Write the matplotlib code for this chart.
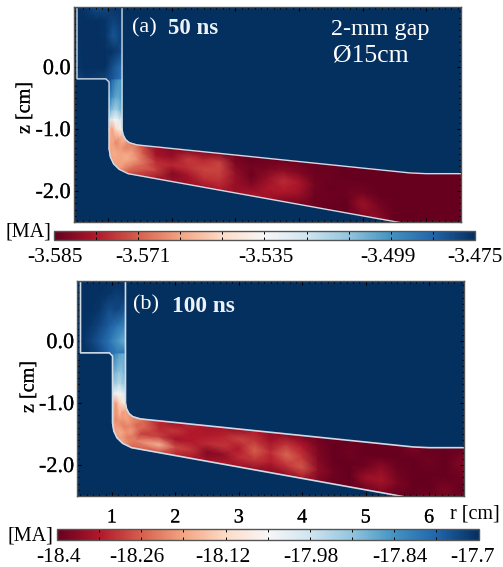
import numpy as np
import matplotlib
matplotlib.use('Agg')
import matplotlib.pyplot as plt
import matplotlib.patheffects as pe
from matplotlib.cm import ScalarMappable
from matplotlib.colors import Normalize
from matplotlib.ticker import MultipleLocator
from matplotlib.transforms import ScaledTranslation

plt.rcParams['font.family'] = ['Liberation Serif', 'DejaVu Serif']

W, H = 503, 567

# channel stations, walls in cm
station_r_low = [1.01, 1.01, 1.01, 1.01, 1.01, 1.01, 1.03, 1.08, 1.17, 1.31]
station_z_low = [-0.19, -0.5, -0.7, -0.85, -1.0, -1.32, -1.45, -1.56, -1.65, -1.72]
station_r_up = [1.214, 1.214, 1.214, 1.214, 1.214, 1.23, 1.27, 1.33, 1.45, 1.6]
station_z_up = [-0.19, -0.5, -0.7, -0.85, -1.0, -1.09, -1.17, -1.22, -1.256, -1.272]
slope_r = [1.75, 2.0, 2.25, 2.5, 2.75, 3.0, 3.25, 3.5, 3.75, 4.0, 4.25, 4.5, 4.75, 5.0, 5.25, 5.5, 5.75, 6.0, 6.25, 6.55]
low_wall_r = [1.31, 5.54, 6.55]
low_wall_z = [-1.72, -2.5, -2.686]
up_wall_r = [1.45, 5.86, 6.55]
up_wall_z = [-1.256, -1.72, -1.72]

box_r = [0.505, 0.65, 0.8, 0.95, 1.08, 1.214]
box_z = [0.97, 0.75, 0.5, 0.25, 0.0, -0.19]

# current [MA], one row per station, lower wall to upper wall
current_a = [
    [-3.480, -3.486, -3.492, -3.497, -3.497],
    [-3.491, -3.497, -3.502, -3.502, -3.497],
    [-3.502, -3.508, -3.513, -3.508, -3.502],
    [-3.519, -3.524, -3.530, -3.524, -3.519],
    [-3.546, -3.552, -3.541, -3.535, -3.530],
    [-3.552, -3.552, -3.557, -3.552, -3.546],
    [-3.552, -3.550, -3.554, -3.552, -3.550],
    [-3.552, -3.552, -3.552, -3.557, -3.557],
    [-3.554, -3.552, -3.550, -3.554, -3.560],
    [-3.565, -3.560, -3.555, -3.562, -3.570],
    [-3.576, -3.568, -3.570, -3.576, -3.577],
    [-3.578, -3.580, -3.572, -3.578, -3.580],
    [-3.577, -3.576, -3.570, -3.569, -3.580],
    [-3.576, -3.570, -3.567, -3.571, -3.581],
    [-3.575, -3.570, -3.567, -3.567, -3.581],
    [-3.578, -3.578, -3.578, -3.581, -3.583],
    [-3.575, -3.580, -3.584, -3.583, -3.585],
    [-3.576, -3.575, -3.578, -3.582, -3.584],
    [-3.581, -3.574, -3.571, -3.579, -3.584],
    [-3.583, -3.577, -3.575, -3.581, -3.584],
    [-3.584, -3.584, -3.583, -3.584, -3.585],
    [-3.585, -3.584, -3.585, -3.584, -3.585],
    [-3.585, -3.585, -3.584, -3.585, -3.585],
    [-3.581, -3.577, -3.583, -3.585, -3.585],
    [-3.579, -3.582, -3.585, -3.585, -3.585],
    [-3.585, -3.585, -3.585, -3.585, -3.585],
    [-3.585, -3.585, -3.585, -3.585, -3.585],
    [-3.585, -3.585, -3.585, -3.585, -3.585],
    [-3.583, -3.585, -3.585, -3.585, -3.585],
    [-3.585, -3.585, -3.585, -3.585, -3.585],
]
current_b = [
    [-17.78, -17.82, -17.85, -17.87, -17.86],
    [-17.87, -17.89, -17.91, -17.90, -17.87],
    [-17.94, -17.93, -17.96, -17.93, -17.92],
    [-18.00, -18.04, -18.05, -18.02, -18.00],
    [-18.16, -18.20, -18.14, -18.10, -18.06],
    [-18.18, -18.22, -18.18, -18.20, -18.17],
    [-18.19, -18.20, -18.22, -18.19, -18.20],
    [-18.20, -18.18, -18.23, -18.20, -18.22],
    [-18.19, -18.23, -18.20, -18.25, -18.23],
    [-18.26, -18.23, -18.29, -18.25, -18.28],
    [-18.28, -18.17, -18.29, -18.31, -18.32],
    [-18.32, -18.28, -18.34, -18.30, -18.35],
    [-18.34, -18.30, -18.33, -18.33, -18.32],
    [-18.35, -18.37, -18.31, -18.33, -18.34],
    [-18.33, -18.36, -18.30, -18.32, -18.34],
    [-18.35, -18.31, -18.33, -18.29, -18.36],
    [-18.36, -18.30, -18.26, -18.30, -18.33],
    [-18.37, -18.33, -18.31, -18.34, -18.36],
    [-18.36, -18.30, -18.25, -18.30, -18.37],
    [-18.34, -18.27, -18.30, -18.33, -18.38],
    [-18.38, -18.36, -18.37, -18.38, -18.39],
    [-18.40, -18.39, -18.40, -18.40, -18.40],
    [-18.40, -18.40, -18.40, -18.39, -18.40],
    [-18.39, -18.35, -18.39, -18.40, -18.40],
    [-18.38, -18.34, -18.36, -18.40, -18.40],
    [-18.40, -18.38, -18.39, -18.40, -18.40],
    [-18.40, -18.40, -18.40, -18.40, -18.38],
    [-18.38, -18.40, -18.40, -18.39, -18.40],
    [-18.40, -18.38, -18.40, -18.40, -18.40],
    [-18.37, -18.40, -18.39, -18.37, -18.40],
]

# feed box cells, top row first, left to right
box_a = [
    [-3.475, -3.477, -3.481, -3.480, -3.476, -3.476],
    [-3.475, -3.475, -3.475, -3.476, -3.479, -3.477],
    [-3.475, -3.475, -3.475, -3.476, -3.483, -3.478],
    [-3.476, -3.475, -3.475, -3.475, -3.476, -3.480],
    [-3.476, -3.475, -3.475, -3.475, -3.482, -3.488],
    [-3.479, -3.477, -3.478, -3.479, -3.484, -3.490],
]
box_b = [
    [-17.70, -17.70, -17.70, -17.70, -17.70, -17.70],
    [-17.70, -17.70, -17.70, -17.71, -17.72, -17.71],
    [-17.70, -17.70, -17.71, -17.74, -17.73, -17.75],
    [-17.70, -17.71, -17.73, -17.76, -17.79, -17.82],
    [-17.70, -17.72, -17.75, -17.79, -17.84, -17.88],
    [-17.70, -17.71, -17.73, -17.77, -17.80, -17.80],
]

vmin_a, vmax_a = -3.585, -3.475
vmin_b, vmax_b = -18.4, -17.7
cbar_labels_a = ['-3.585', '', '-3.571', '', '', '-3.535', '', '', '-3.499', '', '-3.475']
cbar_labels_b = ['-18.4', '', '-18.26', '', '-18.12', '', '-17.98', '', '-17.84', '', '-17.7']
cbar_shift_a = [1, 0, 5, 0, 0, 1, 0, 0, -3, 0, 0]
cbar_shift_b = [2, 0, -4, 0, -3, 0, 1, 0, 6, 0, -6]

navy = '#04305f'
wall = '#cfdbe6'
soft = [pe.withStroke(linewidth=0.15, foreground='#333333')]


def px_axes(x0, y0, x1, y1):
    return fig.add_axes([x0 / W, 1 - y1 / H, (x1 - x0) / W, (y1 - y0) / H])


def draw_panel(ax, current, box, vmin, vmax, wall_lw):
    ax.set_facecolor(navy)
    norm = Normalize(vmin, vmax)
    r_low = np.concatenate([station_r_low, slope_r])
    z_low = np.concatenate([station_z_low, np.interp(slope_r, low_wall_r, low_wall_z)])
    r_up = np.concatenate([station_r_up, slope_r])
    z_up = np.concatenate([station_z_up, np.interp(slope_r, up_wall_r, up_wall_z)])
    t = np.linspace(0, 1, 5)[None, :]
    rr = r_low[:, None] + t * (r_up - r_low)[:, None]
    zz = z_low[:, None] + t * (z_up - z_low)[:, None]
    ax.pcolormesh(rr, zz, np.array(current), cmap='RdBu', norm=norm, shading='gouraud')
    ax.pcolormesh(box_r, box_z, np.array(box), cmap='RdBu', norm=norm, shading='gouraud')

    # conductor walls
    ax.plot(np.r_[box_r[0], box_r[0], 0.96, r_low[0], r_low[1:]],
            np.r_[box_z[0], box_z[-1], box_z[-1], -0.24, z_low[1:]], color=wall, lw=wall_lw)
    ax.plot(np.r_[box_r[-1], r_up], np.r_[box_z[0], z_up], color=wall, lw=wall_lw)

    ax.set_xlim(0.45, 6.55)
    ax.set_ylim(-2.5, 0.97)
    ax.set_yticks([0, -1, -2])
    ax.set_yticklabels(['0.0', '-1.0', '-2.0'], fontsize=16, path_effects=soft)
    ax.set_xticks(range(1, 7))
    ax.xaxis.set_minor_locator(MultipleLocator(0.1))
    ax.yaxis.set_minor_locator(MultipleLocator(0.1))
    ax.tick_params(which='major', direction='in', length=3, width=0.8, top=True, right=True, pad=2)
    ax.tick_params(which='minor', direction='in', length=1.5, width=0.8, top=True, right=True)
    for s in ax.spines.values():
        s.set_color('#555555')
        s.set_linewidth(1.0)


def draw_cbar(cax, vmin, vmax, labels, shifts):
    sm = ScalarMappable(Normalize(vmin, vmax), 'RdBu')
    cb = fig.colorbar(sm, cax=cax, orientation='horizontal')
    cb.set_ticks(np.linspace(vmin, vmax, 11))
    cb.set_ticklabels(labels)
    cax.tick_params(direction='in', length=2.5, width=0.7, top=True, labelsize=15.5, pad=6)
    for t, dx in zip(cax.get_xticklabels(), shifts):
        t.set_transform(t.get_transform() + ScaledTranslation(dx / 100, 0, fig.dpi_scale_trans))
    cb.outline.set_edgecolor('#555555')
    cb.outline.set_linewidth(1.0)


def label(x, y, s, **kw):
    kw.setdefault('fontsize', 14.5)
    kw.setdefault('ha', 'center')
    kw.setdefault('va', 'center')
    fig.text(x / W, 1 - y / H, s, **kw)


fig = plt.figure(figsize=(W / 100, H / 100), dpi=100)

ax_a = px_axes(73.5, 7, 461, 222)
draw_panel(ax_a, current_a, box_a, vmin_a, vmax_a, 1.0)
ax_a.set_xticklabels([])

ax_b = px_axes(77, 281, 464, 496)
draw_panel(ax_b, current_b, box_b, vmin_b, vmax_b, 1.2)
ax_b.set_xticklabels(['1', '2', '3', '4', '5', '6'], fontsize=14.5, path_effects=soft)
ax_b.tick_params(axis='x', which='major', pad=9)

draw_cbar(px_axes(54, 231, 475, 240), vmin_a, vmax_a, cbar_labels_a, cbar_shift_a)
draw_cbar(px_axes(57, 529, 478.5, 540), vmin_b, vmax_b, cbar_labels_b, cbar_shift_b)

label(25, 108, 'z [cm]', rotation=90, path_effects=soft)
label(29, 387, 'z [cm]', rotation=90, path_effects=soft)
label(475, 514, 'r [cm]')
label(28, 232, '[MA]')
label(30, 536, '[MA]')

label(144, 28, '(a)', color='white', fontsize=16)
label(193, 29, '50 ns', color='#eef2f6', fontsize=16.5, fontweight='bold')
label(380, 30, '2-mm gap', color='white', fontsize=17.4)
label(371, 55, 'Ø15cm', color='white', fontsize=18.5)
label(146, 305, '(b)', color='white', fontsize=16)
label(203, 306, '100 ns', color='#eef2f6', fontsize=16.8, fontweight='bold')

fig.savefig('out.png', dpi=100)
